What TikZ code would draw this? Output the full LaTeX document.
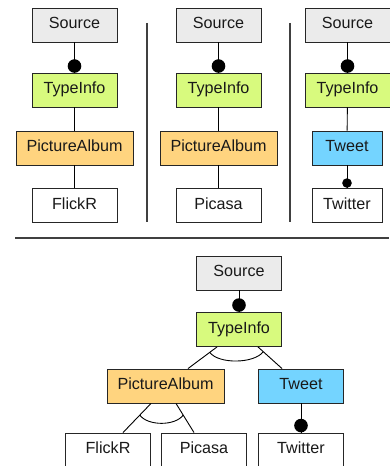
\documentclass[tikz,border=0pt]{standalone}
\usepackage{fontspec}
\setmainfont{Liberation Sans}
\usetikzlibrary{calc}
\definecolor{srcgray}{HTML}{EBEBEB}
\definecolor{tigreen}{HTML}{D8FA7E}
\definecolor{paorange}{HTML}{FFD47F}
\definecolor{twblue}{HTML}{74D4FF}
\begin{document}
\begin{tikzpicture}[x=1bp,y=-1bp,
  feat/.style={draw=black!85, line width=0.9bp, minimum height=34bp, minimum width=85bp,
    inner sep=0pt, font=\fontsize{16.2}{19}\selectfont, text=black!90,
    text height=0.72em, text depth=0pt},
  srcbox/.style={feat, fill=srcgray},
  tibox/.style={feat, fill=tigreen},
  pabox/.style={feat, fill=paorange, minimum width=117bp},
  twbox/.style={feat, fill=twblue},
  leafbox/.style={feat, fill=white},
  conn/.style={draw=black, line width=0.9bp},
  sep/.style={draw=black!75, line width=1.1bp},
  bigdot/.style={fill=black},
]
\useasboundingbox (0,0) rectangle (389,466);

% separators
\draw[sep] (147,23) -- (147,222);
\draw[sep] (290,23) -- (290,222);
\draw[sep] (15,238) -- (389,238);

% ---- panel 1
\node[srcbox] (s1) at (74.5,25) {Source};
\node[tibox] (t1) at (74.5,90) {TypeInfo};
\node[pabox] (p1) at (74.5,148) {PictureAlbum};
\node[leafbox] (f1) at (74.5,205.5) {FlickR};
\draw[conn] (s1) -- (t1);
\draw[conn] (t1) -- (p1);
\draw[conn] (p1) -- (f1);
\fill[bigdot] ($(t1.north)+(0,-6.5)$) circle (6.8bp);

% ---- panel 2
\node[srcbox] (s2) at (218.5,25) {Source};
\node[tibox] (t2) at (218.5,90) {TypeInfo};
\node[pabox] (p2) at (218.5,148) {PictureAlbum};
\node[leafbox] (f2) at (218.5,205.5) {Picasa};
\draw[conn] (s2) -- (t2);
\draw[conn] (t2) -- (p2);
\draw[conn] (p2) -- (f2);
\fill[bigdot] ($(t2.north)+(0,-6.5)$) circle (6.8bp);

% ---- panel 3
\node[srcbox] (s3) at (347.5,25) {Source};
\node[tibox] (t3) at (347.5,90) {TypeInfo};
\node[twbox, minimum width=70bp] (w3) at (347,148) {Tweet};
\node[leafbox, minimum width=70bp] (r3) at (347,205.5) {Twitter};
\draw[conn] (s3) -- (t3);
\draw[conn] (t3) -- (w3);
\draw[conn] (w3) -- (r3);
\fill[bigdot] ($(t3.north)+(0,-6.5)$) circle (6.8bp);
\fill[bigdot] ($(r3.north)+(0,-5)$) circle (4.8bp);

% ---- bottom panel
\node[srcbox] (s4) at (239,273) {Source};
\node[tibox] (t4) at (239,329.5) {TypeInfo};
\node[pabox] (p4) at (165.5,386) {PictureAlbum};
\node[twbox] (w4) at (301,386) {Tweet};
\node[leafbox] (f4) at (108,450) {FlickR};
\node[leafbox] (c4) at (204,450) {Picasa};
\node[leafbox] (r4) at (301,450) {Twitter};

\draw[conn] (s4) -- (t4);
\fill[bigdot] ($(t4.north)+(0,-7)$) circle (6.8bp);

\coordinate (ta) at ($(t4.south)+(-22,0)$);
\coordinate (tb) at ($(t4.south)+(19,0)$);
\coordinate (pa) at ($(p4.north)+(22.5,0)$);
\coordinate (wb) at ($(w4.north)+(-19,0)$);
\draw[conn] (ta) -- (pa);
\draw[conn] (tb) -- (wb);
\coordinate (ga) at ($(ta)!0.25!(pa)$);
\coordinate (gb) at ($(tb)!0.22!(wb)$);
\draw[conn] (ga) .. controls +(9,12) and +(-9,12) .. (gb);

\coordinate (pc) at ($(p4.south)+(-14.5,0)$);
\coordinate (pd) at ($(p4.south)+(10.5,0)$);
\coordinate (fa) at ($(f4.north)+(15,0)$);
\coordinate (cb) at ($(c4.north)+(-10,0)$);
\draw[conn] (pc) -- (fa);
\draw[conn] (pd) -- (cb);
\coordinate (ha) at ($(pc)!0.4!(fa)$);
\coordinate (hb) at ($(pd)!0.4!(cb)$);
\draw[conn] (ha) .. controls +(8,11) and +(-8,11) .. (hb);

\draw[conn] (w4) -- (r4);
\fill[bigdot] ($(r4.north)+(0,-7)$) circle (6.8bp);
\end{tikzpicture}
\end{document}
